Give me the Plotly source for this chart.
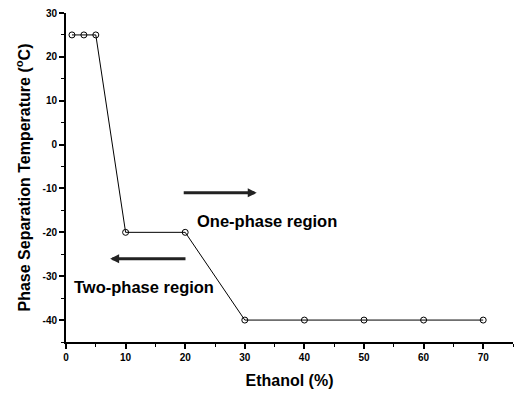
import plotly.graph_objects as go

# Phase separation temperature vs ethanol content
ethanol = [1, 3, 5, 10, 20, 30, 40, 50, 60, 70]
temperature = [25, 25, 25, -20, -20, -40, -40, -40, -40, -40]

x_ticks = [0, 10, 20, 30, 40, 50, 60, 70]
y_ticks = [30, 20, 10, 0, -10, -20, -30, -40]

font_family = "Liberation Sans, Arial, sans-serif"

fig = go.Figure()
fig.add_trace(go.Scatter(
    x=ethanol, y=temperature,
    mode="lines+markers",
    line=dict(color="black", width=1),
    marker=dict(symbol="circle-open", size=6, color="black", line=dict(width=1)),
    showlegend=False,
))

# region arrows and labels
fig.add_annotation(x=32, y=-11, ax=19.5, ay=-11, xref="x", yref="y", axref="x", ayref="y",
                   text="", showarrow=True, arrowhead=2, arrowsize=0.6, arrowwidth=3,
                   arrowcolor="#222")
fig.add_annotation(x=7.4, y=-26, ax=20.3, ay=-26, xref="x", yref="y", axref="x", ayref="y",
                   text="", showarrow=True, arrowhead=2, arrowsize=0.6, arrowwidth=3,
                   arrowcolor="#222")
fig.add_annotation(x=21.6, y=-17.4, xref="x", yref="y", text="<b>One-phase region</b>",
                   showarrow=False, xanchor="left", yanchor="middle",
                   font=dict(family=font_family, size=16.5, color="black"))
fig.add_annotation(x=1.0, y=-32.5, xref="x", yref="y", text="<b>Two-phase region</b>",
                   showarrow=False, xanchor="left", yanchor="middle",
                   font=dict(family=font_family, size=16.5, color="black"))

axis_common = dict(
    showgrid=False, zeroline=False, showline=True, linecolor="black", linewidth=2,
    ticks="outside", ticklen=5, tickwidth=1.5, tickcolor="black",
    tickfont=dict(family=font_family, size=10, color="black"),
    minor=dict(ticks="outside", ticklen=3, tickwidth=1, tickcolor="black", dtick=5),
)

fig.update_xaxes(range=[0, 75], tickvals=x_ticks, ticktext=[f"<b>{v}</b>" for v in x_ticks],
                 title=dict(text="<b>Ethanol (%)</b>", font=dict(family=font_family, size=16, color="black"),
                            standoff=13),
                 **axis_common)
fig.update_yaxes(range=[-45, 30], tickvals=y_ticks, ticktext=[f"<b>{v}</b>" for v in y_ticks],
                 title=dict(text="<b>Phase Separation Temperature (<sup>o</sup>C)</b>",
                            font=dict(family=font_family, size=16, color="black"), standoff=8),
                 **axis_common)

fig.update_layout(
    width=515, height=396,
    margin=dict(l=66, r=2, t=13, b=54),
    plot_bgcolor="white", paper_bgcolor="white",
)

fig.write_html("out.html")
